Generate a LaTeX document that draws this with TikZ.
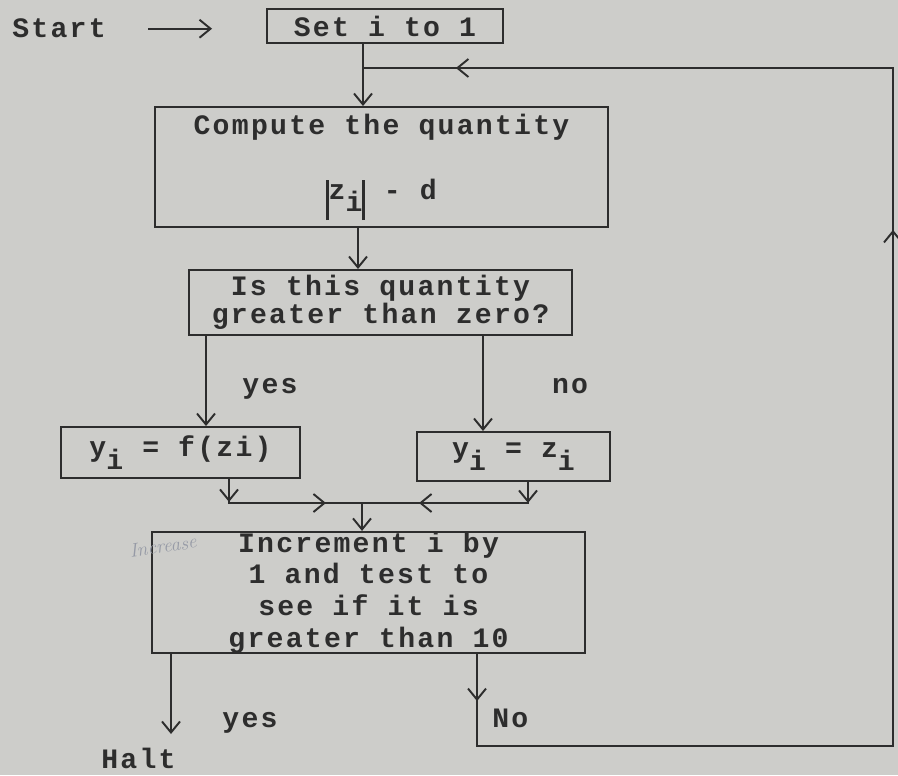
\documentclass[tikz,border=0pt]{standalone}
\usepackage{fontspec}
\newfontfamily\tw[LetterSpace=8,UprightFont={* Bold}]{Liberation Mono}
\usetikzlibrary{arrows.meta,decorations.markings}
\definecolor{paper}{RGB}{205,205,202}
\definecolor{ink}{RGB}{45,45,45}
\definecolor{pencil}{RGB}{150,154,166}
\newcommand{\sub}[1]{\raisebox{-7pt}{#1}}
\newcommand{\vbar}{\rule[-12pt]{1.3pt}{23pt}}

\begin{document}
\begin{tikzpicture}[x=0.2mm, y=-0.2mm, >={Straight Barb[length=2.2mm,width=3.6mm]},
  every node/.style={text=ink, font=\tw\fontsize{16}{16}\selectfont},
  box/.style={draw=ink, line width=1.1pt, inner sep=0pt, align=center},
  lab/.style={inner sep=0pt},
  line/.style={draw=ink, line width=1.1pt},
  tipat/.style={postaction={decorate,decoration={markings,mark=at position #1 with {\arrow[ink]{>}}}}}]
\useasboundingbox (0,0) rectangle (898,775);
\fill[paper] (0,0) rectangle (898,775);

% boxes
\node[box, minimum width=4.72cm, minimum height=0.68cm] (set) at (385,26) {Set i to 1};
\node[box, minimum width=9.06cm, minimum height=2.4cm] (comp) at (381.5,167) {Compute the quantity\\[21pt]\vbar z\sub{i}\vbar{} - d};
\node[box, minimum width=7.66cm, minimum height=1.3cm] (test) at (380.5,302.5) {Is this quantity\\greater than zero?};
\node[box, minimum width=4.78cm, minimum height=1.02cm] (fz) at (180.5,452.5) {y\sub{i} = f(zi)};
\node[box, minimum width=3.86cm, minimum height=0.98cm] (zz) at (513.5,456.5) {y\sub{i} = z\sub{i}};
\node[box, minimum width=8.66cm, minimum height=2.42cm] (inc) at (368.5,592.5) {Increment i by\\[2pt]1 and test to\\[2pt]see if it is\\[2pt]greater than 10};

% labels
\node[lab, anchor=base west] (start) at (12,38) {Start};
\node[lab, anchor=base] (yesA) at (270,393) {yes};
\node[lab, anchor=base] (noA) at (570,393) {no};
\node[lab, anchor=base] (yesB) at (250,727) {yes};
\node[lab, anchor=base west] (noB) at (492,727) {No};
\node[lab, anchor=base west] (halt) at (101,768) {Halt};
\node[lab, text=pencil, font=\rmfamily\itshape\fontsize{11}{11}\selectfont, rotate=8] (note) at (163,546) {Increase};

% columns of the connectors
\coordinate (cA) at (363,0);
\coordinate (cB) at (358,0);
\coordinate (cY) at (206,0);
\coordinate (cN) at (483,0);
\coordinate (cL) at (229,0);
\coordinate (cR) at (528,0);
\coordinate (cH) at (171,0);
\coordinate (cO) at (477,0);
\coordinate (join) at (362,503);
\coordinate (loopIn) at (363,68);
\coordinate (se) at (893,746);
\coordinate (ne) at (893,68);
\coordinate (haltTip) at (171,734);

\draw[line,->,shorten <=0.84cm,shorten >=1.08cm] (start.east) -- (start.east -| set.west);
\draw[line,->] (set.south -| cA) -- (comp.north -| cA);
\draw[line,->] (comp.south -| cB) -- (test.north -| cB);
\draw[line,->] (test.south -| cY) -- (fz.north -| cY);
\draw[line,->] (test.south -| cN) -- (zz.north -| cN);
\draw[line,tipat=0.46cm,tipat=2.42cm] (fz.south -| cL) |- (join);
\draw[line,tipat=0.42cm,tipat=2.6cm] (zz.south -| cR) |- (join);
\draw[line,->] (join) -- (inc.north -| join);
\draw[line,->] (inc.south -| cH) -- (haltTip);
\draw[line,tipat=0.94cm,tipat=20.48cm,tipat=32.46cm] (inc.south -| cO) |- (se) -- (ne) -- (loopIn);
\end{tikzpicture}
\end{document}
